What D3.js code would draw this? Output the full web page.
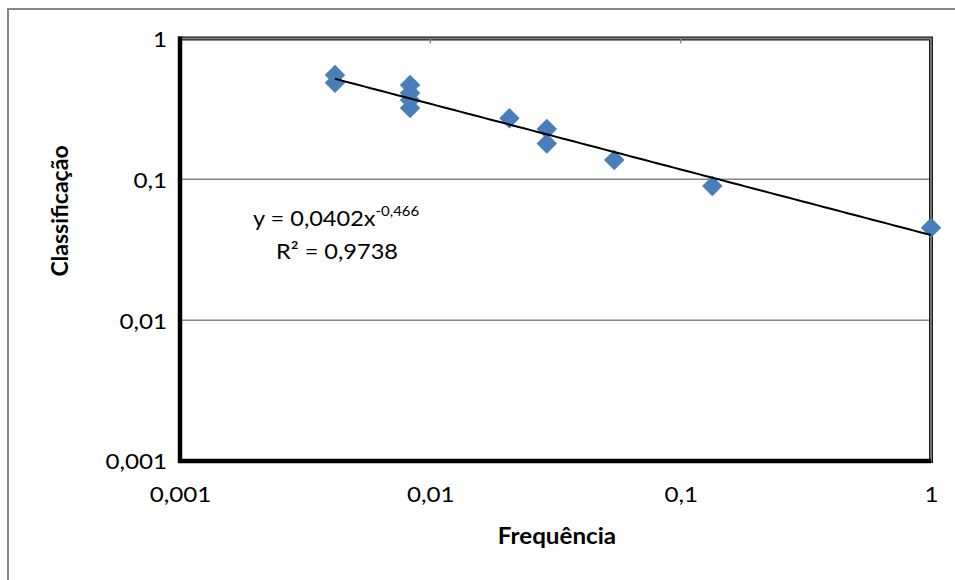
<!DOCTYPE html>
<html>
<head>
<meta charset="utf-8">
<script src="https://cdn.jsdelivr.net/npm/d3@7"></script>
<style>
  html, body { margin: 0; padding: 0; background: #fff; }
  svg { display: block; }
  text { font-family: Lato, "Open Sans", sans-serif; fill: #000; }
</style>
</head>
<body>
<svg id="chart" width="955" height="580"></svg>
<script>
// Observations: frequency vs. classification (log-log)
const frequencia    = [0.00416, 0.00416, 0.0083, 0.0083, 0.0083, 0.0083, 0.0207, 0.0292, 0.0292, 0.0543, 0.1338, 1.0];
const classificacao = [0.551,   0.485,   0.467,  0.41,   0.366,  0.321,  0.271,  0.228,  0.180,  0.137,  0.0897, 0.0453];

// Power trendline y = a * x^b
const trendA = 0.0402;
const trendB = -0.466;
const trendR2 = "0,9738";

const tickValues = [0.001, 0.01, 0.1, 1];
const tickLabels = ["0,001", "0,01", "0,1", "1"];

const xTitle = "Frequência";
const yTitle = "Classificação";

const svg = d3.select("#chart");
const plotLeft = 180, plotRight = 931, plotTop = 38.5, plotBottom = 461;
const labelSize = 22;
const stretch = 1.1;   // labels are set slightly wide

const x = d3.scaleLog().domain([0.001, 1]).range([plotLeft, plotRight]);
const y = d3.scaleLog().domain([0.001, 1]).range([plotBottom, plotTop]);

// Chart area frame
svg.append("rect")
  .attr("x", 8).attr("y", 9).attr("width", 960).attr("height", 600)
  .attr("fill", "#fff").attr("stroke", "#878787").attr("stroke-width", 2);

// Horizontal gridlines
svg.append("g")
  .selectAll("line")
  .data([0.01, 0.1])
  .join("line")
  .attr("x1", plotLeft).attr("x2", plotRight)
  .attr("y1", d => y(d)).attr("y2", d => y(d))
  .attr("stroke", "#868686").attr("stroke-width", 1.5);

// Plot area border (top / right)
svg.append("rect")
  .attr("x", plotLeft).attr("y", plotTop).attr("width", plotRight - plotLeft).attr("height", plotBottom - plotTop)
  .attr("fill", "none").attr("stroke", "#1a1a1a").attr("stroke-width", 4);
svg.append("rect")
  .attr("x", plotLeft).attr("y", plotTop).attr("width", plotRight - plotLeft).attr("height", plotBottom - plotTop)
  .attr("fill", "none").attr("stroke", "#8a8a8a").attr("stroke-width", 1.6);

// Small marks on the top edge at the inner decades
svg.append("g")
  .selectAll("line")
  .data([0.01, 0.1])
  .join("line")
  .attr("x1", d => x(d)).attr("x2", d => x(d))
  .attr("y1", plotTop).attr("y2", plotTop + 5)
  .attr("stroke", "#8a8a8a").attr("stroke-width", 1.5);

// Axes: heavy black lines on left and bottom, labels only
const xAxis = d3.axisBottom(x).tickValues(tickValues)
  .tickFormat((d, i) => tickLabels[i]).tickSize(0).tickPadding(25);
const yAxis = d3.axisLeft(y).tickValues(tickValues)
  .tickFormat((d, i) => tickLabels[i]).tickSize(0).tickPadding(13);

const gx = svg.append("g").attr("transform", `translate(0,${plotBottom})`).call(xAxis);
const gy = svg.append("g").attr("transform", `translate(${plotLeft},0)`).call(yAxis);
[gx, gy].forEach(g => {
  g.select(".domain").remove();
  g.selectAll("text").attr("font-size", labelSize).attr("fill", "#000")
    .style("font-family", "Lato, 'Open Sans', sans-serif");
});
gx.selectAll("text").attr("dy", "0.71em")
  .attr("transform", `scale(${stretch},1)`);
gy.selectAll("text").attr("dy", "0.36em")
  .attr("x", 0).attr("transform", `translate(-13,0) scale(${stretch},1)`);

svg.append("line")
  .attr("x1", plotLeft).attr("x2", plotLeft).attr("y1", plotTop - 2).attr("y2", plotBottom + 2)
  .attr("stroke", "#000").attr("stroke-width", 4.5);
svg.append("line")
  .attr("x1", plotLeft - 2).attr("x2", plotRight).attr("y1", plotBottom).attr("y2", plotBottom)
  .attr("stroke", "#000").attr("stroke-width", 4.5);

// Trendline over the observed range
const xMin = d3.min(frequencia), xMax = d3.max(frequencia);
const trend = d3.range(0, 101).map(i => {
  const xv = Math.pow(10, Math.log10(xMin) + (Math.log10(xMax) - Math.log10(xMin)) * i / 100);
  return [xv, trendA * Math.pow(xv, trendB)];
});

// Markers
const diamond = d3.symbol().type(d3.symbolSquare).size(210)();
svg.append("g")
  .selectAll("path")
  .data(frequencia.map((f, i) => [f, classificacao[i]]))
  .join("path")
  .attr("d", diamond)
  .attr("transform", d => `translate(${x(d[0])},${y(d[1])}) rotate(45)`)
  .attr("fill", "#4a7ebb");

svg.append("path")
  .datum(trend)
  .attr("d", d3.line().x(d => x(d[0])).y(d => y(d[1])))
  .attr("fill", "none").attr("stroke", "#000").attr("stroke-width", 2);

// Trendline equation
const eq = svg.append("text").attr("transform", "translate(253,226) scale(1.07,1)")
  .attr("font-size", labelSize);
eq.append("tspan").text("y = " + String(trendA).replace(".", ",") + "x");
eq.append("tspan").attr("font-size", 14).attr("dy", -10)
  .text(String(trendB).replace(".", ","));
svg.append("text").attr("transform", "translate(337,259) scale(1.07,1)")
  .attr("font-size", labelSize)
  .attr("text-anchor", "middle").text("R² = " + trendR2);

// Axis titles
svg.append("text").attr("transform", `translate(557,544) scale(${stretch},1)`)
  .attr("font-size", labelSize)
  .attr("font-weight", "bold").attr("text-anchor", "middle").text(xTitle);
svg.append("text").attr("transform", "translate(68,211) rotate(-90)")
  .attr("font-size", 23).attr("font-weight", "bold").attr("text-anchor", "middle").text(yTitle);
</script>
</body>
</html>
